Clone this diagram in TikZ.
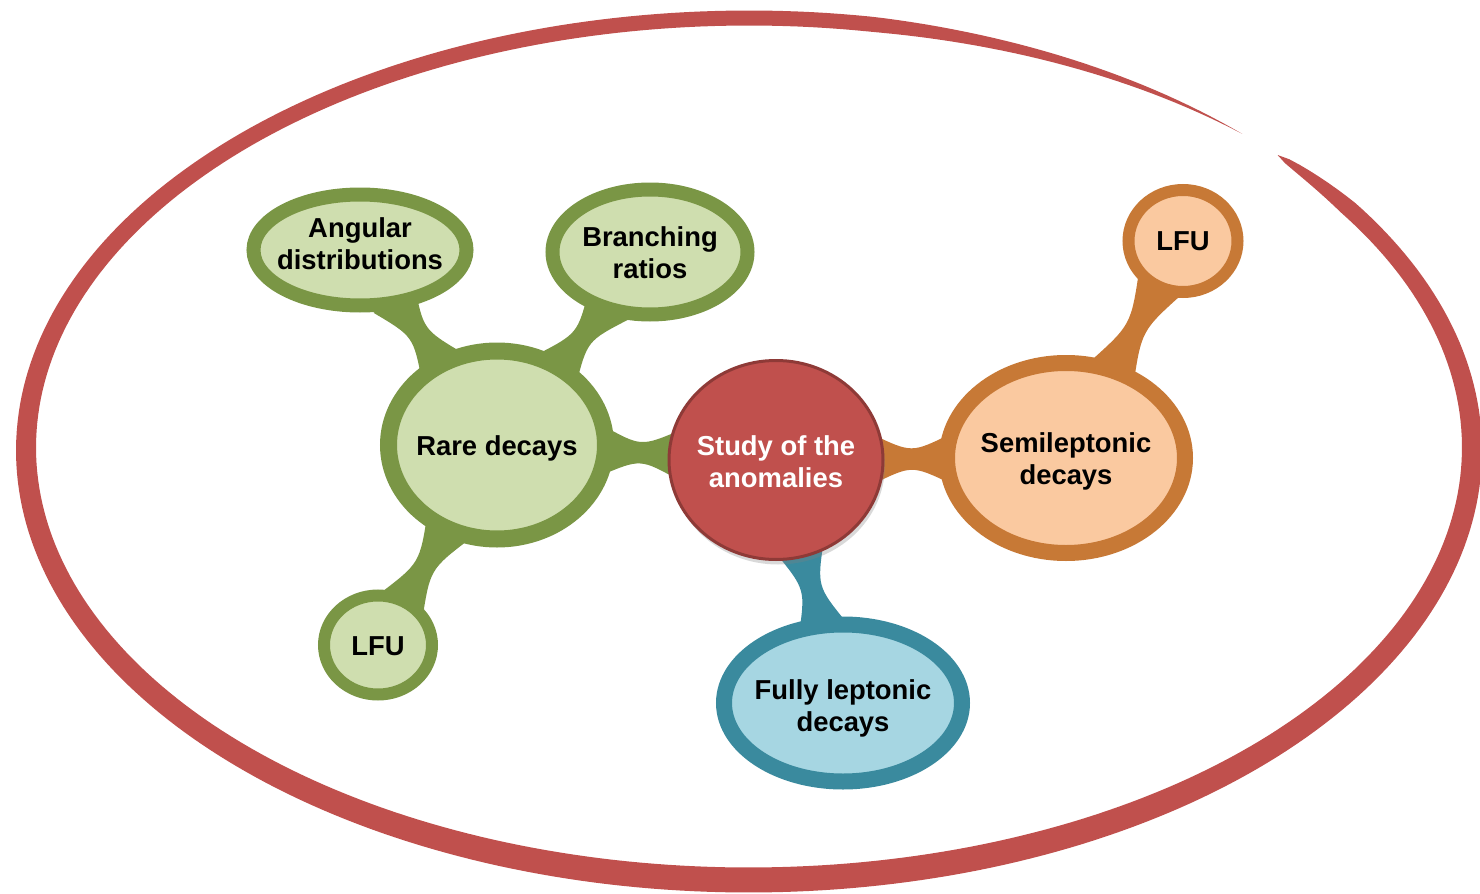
\documentclass[tikz,border=0pt]{standalone}
\usepackage{fontspec}
\setmainfont{Liberation Sans}
\usetikzlibrary{shapes.geometric,calc,shadows}
\pgfdeclarelayer{background}
\pgfsetlayers{background,main}

\definecolor{ringred}{HTML}{C0504D}
\definecolor{coreedge}{HTML}{8E3A37}
\definecolor{grnline}{HTML}{7A9645}
\definecolor{grnfill}{HTML}{CFDEAF}
\definecolor{orgline}{HTML}{C77936}
\definecolor{orgfill}{HTML}{FAC9A0}
\definecolor{tealline}{HTML}{3A8A9E}
\definecolor{tealfill}{HTML}{A6D6E2}

% centred multi-line label that does not widen the bubble; optional vertical nudge
\newcommand{\mmtext}[2][-2pt]{\raisebox{#1}[\height][\depth]{\makebox[0pt]{\begin{tabular}{@{}c@{}}#2\end{tabular}}}}

% organic stalk joining two bubbles: wide where it meets them, narrow in the middle
\newcommand{\stalk}[3]{%
  \path (#1) -- (#2) coordinate[pos=0] (st-a) coordinate[pos=1] (st-b);
  \coordinate (st-s) at ($(st-a)!-6pt!(st-b)$);
  \coordinate (st-e) at ($(st-b)!-6pt!(st-a)$);
  \coordinate (st-m) at ($(st-s)!0.5!(st-e)$);
  \fill[#3] ($(st-s)!12.5pt!90:(st-e)$)
      .. controls ($(st-m)!3pt!90:(st-e)$) .. ($(st-e)!12.5pt!-90:(st-s)$)
      -- ($(st-e)!12.5pt!90:(st-s)$)
      .. controls ($(st-m)!3pt!-90:(st-e)$) .. ($(st-s)!12.5pt!-90:(st-e)$)
      -- cycle;}

\begin{document}
\begin{tikzpicture}[x=0.5pt,y=-0.5pt,
  declare function={rw(\q)=(20+5*sin(\q))*min(1,sqrt(max(0,(\q+43)/9)))*min(1,max(0,(313-\q)/33));},
  bubble/.style={ellipse,inner sep=0pt,font=\bfseries\fontsize{13.7}{16}\selectfont},
  grnbub/.style={bubble,draw=grnline,fill=grnfill},
  orgbub/.style={bubble,draw=orgline,fill=orgfill},
  tealbub/.style={bubble,draw=tealline,fill=tealfill},
  corebub/.style={bubble,draw=coreedge,fill=ringred,text=white,line width=1.5pt,
    drop shadow={opacity=0.3,shadow xshift=1pt,shadow yshift=-2.5pt}}]

\useasboundingbox (0,0) rectangle (1480,894);

% bubbles
\node[grnbub,line width=8.5pt,minimum width=108.5pt,minimum height=94pt] (rare) at (497,445) {\mmtext{Rare decays}};
\node[grnbub,line width=7pt,minimum width=106.5pt,minimum height=55.5pt] (ang) at (360,250) {\mmtext[1.5pt]{Angular\\distributions}};
\node[grnbub,line width=7pt,minimum width=97.5pt,minimum height=62.5pt] (br) at (650,252) {\mmtext{Branching\\ratios}};
\node[grnbub,line width=6pt,minimum width=54pt,minimum height=49.5pt] (lfuA) at (378,645) {\mmtext{LFU}};
\node[corebub,minimum width=107pt,minimum height=99.5pt] (core) at (776,460) {\mmtext[-2.7pt]{Study of the\\anomalies}};
\node[orgbub,line width=8pt,minimum width=119pt,minimum height=95pt] (semi) at (1066,458) {\mmtext{Semileptonic\\decays}};
\node[orgbub,line width=6pt,minimum width=54.5pt,minimum height=51pt] (lfuB) at (1183,241) {\mmtext[-1.5pt]{LFU}};
\node[tealbub,line width=8pt,minimum width=119pt,minimum height=78.5pt] (full) at (843,703) {\mmtext[-3pt]{Fully leptonic\\decays}};

\begin{pgfonlayer}{background}
  % brush-stroke ring around the map
  \begin{scope}
    \clip (0,0) rectangle (1480,894);
    \fill[ringred]
      plot[domain=-43:313,samples=320] ({749+(723+0.5*rw(\x))*cos(\x)},{449+(431+0.5*rw(\x))*sin(\x)})
      -- plot[domain=313:-43,samples=320] ({749+(723-0.5*rw(\x))*cos(\x)},{449+(431-0.5*rw(\x))*sin(\x)})
      -- cycle;
  \end{scope}
  % stalks
  \stalk{rare}{ang}{grnline}
  \stalk{rare}{br}{grnline}
  \stalk{rare}{lfuA}{grnline}
  \stalk{rare}{core}{grnline}
  \stalk{core}{semi}{orgline}
  \stalk{semi}{lfuB}{orgline}
  \stalk{core}{full}{tealline}
\end{pgfonlayer}
\end{tikzpicture}
\end{document}
